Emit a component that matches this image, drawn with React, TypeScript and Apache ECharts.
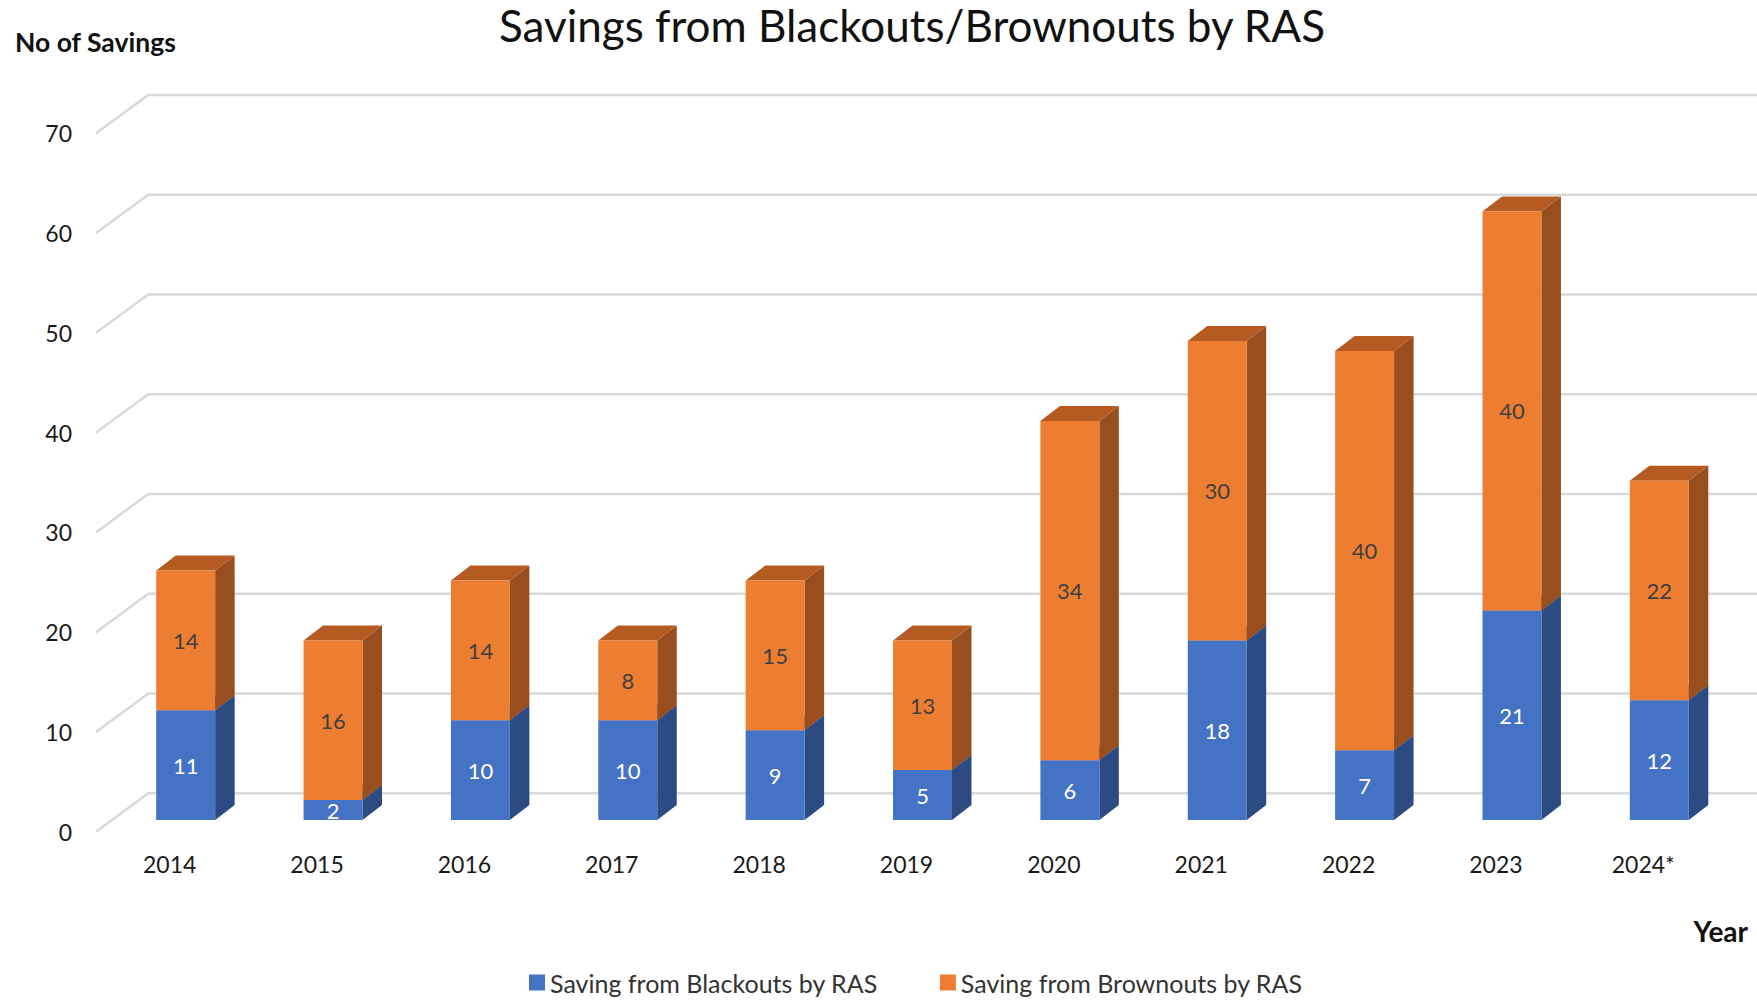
import React, { useEffect, useRef } from "react";
import * as echarts from "echarts";

const categories = ["2014", "2015", "2016", "2017", "2018", "2019", "2020", "2021", "2022", "2023", "2024*"];
const blackouts = [11, 2, 10, 10, 9, 5, 6, 18, 7, 21, 12];
const brownouts = [14, 16, 14, 8, 15, 13, 34, 30, 40, 40, 22];
const yTicks = [0, 10, 20, 30, 40, 50, 60, 70];
const seriesNames = ["Saving from Blackouts by RAS", "Saving from Brownouts by RAS"];

const FONT = "Lato, 'Open Sans', sans-serif";
const W = 1757;
const H = 1001;

// oblique depth geometry (pixels)
const FLOOR_DX = 52.3;
const FLOOR_DY = 38.4;
const FRONT_DX = 16;
const FRONT_DY = 11.7;
const SIDE_DX = 19.5;
const SIDE_DY = 15;

const COLORS = {
  blue: { front: "#4472C4", side: "#2C4B82", top: "#36609F", label: "#FFFFFF" },
  orange: { front: "#ED7D31", side: "#984E1E", top: "#B55B21", label: "#404040" },
};

function makeBarRender(c: { front: string; side: string; top: string; label: string }) {
  return (params: any, api: any) => {
    const idx = api.value(0);
    const base = api.value(1);
    const top = api.value(2);
    const val = api.value(3);
    const p0 = api.coord([idx, base]);
    const p1 = api.coord([idx, top]);
    const bandW = api.size([1, 0])[0];
    const bw = bandW * 0.4;
    const xl = p0[0] + FRONT_DX - bw / 2;
    const xr = xl + bw;
    const yb = p0[1] - FRONT_DY;
    const yt = p1[1] - FRONT_DY;
    return {
      type: "group",
      children: [
        {
          type: "polygon",
          shape: {
            points: [
              [xr, yb],
              [xr + SIDE_DX, yb - SIDE_DY],
              [xr + SIDE_DX, yt - SIDE_DY],
              [xr, yt],
            ],
          },
          style: { fill: c.side },
        },
        {
          type: "polygon",
          shape: {
            points: [
              [xl, yt],
              [xl + SIDE_DX, yt - SIDE_DY],
              [xr + SIDE_DX, yt - SIDE_DY],
              [xr, yt],
            ],
          },
          style: { fill: c.top },
        },
        {
          type: "rect",
          shape: { x: xl, y: yt, width: bw, height: yb - yt },
          style: { fill: c.front },
        },
        {
          type: "text",
          x: (xl + xr) / 2,
          y: (yt + yb) / 2,
          style: {
            text: String(val),
            fill: c.label,
            fontSize: 22,
            fontFamily: FONT,
            align: "center",
            verticalAlign: "middle",
          },
        },
      ],
    };
  };
}

export default function App() {
  const ref = useRef<HTMLDivElement>(null);

  useEffect(() => {
    document.body.style.margin = "0";
    if (!ref.current) return;
    const chart = echarts.init(ref.current, null, { renderer: "svg" });

    const blueData = categories.map((_, i) => [i, 0, blackouts[i], blackouts[i]]);
    const orangeData = categories.map((_, i) => [
      i,
      blackouts[i],
      blackouts[i] + brownouts[i],
      brownouts[i],
    ]);
    const gridData = yTicks.map((v) => [0, v]);

    chart.setOption({
      animation: false,
      backgroundColor: "#FFFFFF",
      grid: {
        left: 96,
        right: 40,
        top: 133.3,
        bottom: H - 831.7,
        containLabel: false,
        outerBoundsMode: "none",
      },
      xAxis: {
        type: "category",
        data: categories,
        axisLine: { show: false },
        axisTick: { show: false },
        axisLabel: {
          margin: 21,
          fontSize: 23,
          fontFamily: FONT,
          color: "#1a1a1a",
        },
        splitLine: { show: false },
      },
      yAxis: {
        type: "value",
        min: 0,
        max: 70,
        interval: 10,
        axisLine: { show: false },
        axisTick: { show: false },
        splitLine: { show: false },
        axisLabel: {
          margin: 24,
          fontSize: 23,
          fontFamily: FONT,
          color: "#1a1a1a",
        },
      },
      legend: {
        data: seriesNames,
        left: 524,
        top: 965,
        itemWidth: 16,
        itemHeight: 16,
        itemGap: 62,
        icon: "rect",
        textStyle: { fontSize: 25, fontFamily: FONT, color: "#333333" },
      },
      graphic: [
        {
          type: "text",
          x: 912,
          y: 25,
          style: {
            text: "Savings from Blackouts/Brownouts by RAS",
            fontSize: 44,
            fontFamily: FONT,
            fill: "#111111",
            align: "center",
            verticalAlign: "middle",
          },
        },
        {
          type: "text",
          x: 15,
          y: 42,
          style: {
            text: "No of Savings",
            fontSize: 26.5,
            fontWeight: "bold",
            fontFamily: FONT,
            fill: "#111111",
            align: "left",
            verticalAlign: "middle",
          },
        },
        {
          type: "text",
          x: 1748,
          y: 931,
          style: {
            text: "Year",
            fontSize: 28,
            fontWeight: "bold",
            fontFamily: FONT,
            fill: "#111111",
            align: "right",
            verticalAlign: "middle",
          },
        },
      ],
      series: [
        {
          type: "custom",
          name: "gridlines",
          z: 1,
          silent: true,
          data: gridData,
          encode: { x: 0, y: 1 },
          renderItem: (params: any, api: any) => {
            const p = api.coord([0, api.value(1)]);
            const bandW = api.size([1, 0])[0];
            const L = p[0] - bandW / 2;
            const y = p[1];
            return {
              type: "polyline",
              shape: {
                points: [
                  [L, y],
                  [L + FLOOR_DX, y - FLOOR_DY],
                  [W, y - FLOOR_DY],
                ],
              },
              style: { stroke: "#D9D9D9", lineWidth: 2.5, fill: "none" },
            };
          },
        },
        {
          type: "custom",
          name: seriesNames[0],
          z: 3,
          data: blueData,
          encode: { x: 0, y: 2 },
          itemStyle: { color: COLORS.blue.front },
          renderItem: makeBarRender(COLORS.blue),
        },
        {
          type: "custom",
          name: seriesNames[1],
          z: 4,
          data: orangeData,
          encode: { x: 0, y: 2 },
          itemStyle: { color: COLORS.orange.front },
          renderItem: makeBarRender(COLORS.orange),
        },
      ],
    });

    return () => chart.dispose();
  }, []);

  return <div ref={ref} style={{ width: W, height: H }} />;
}
